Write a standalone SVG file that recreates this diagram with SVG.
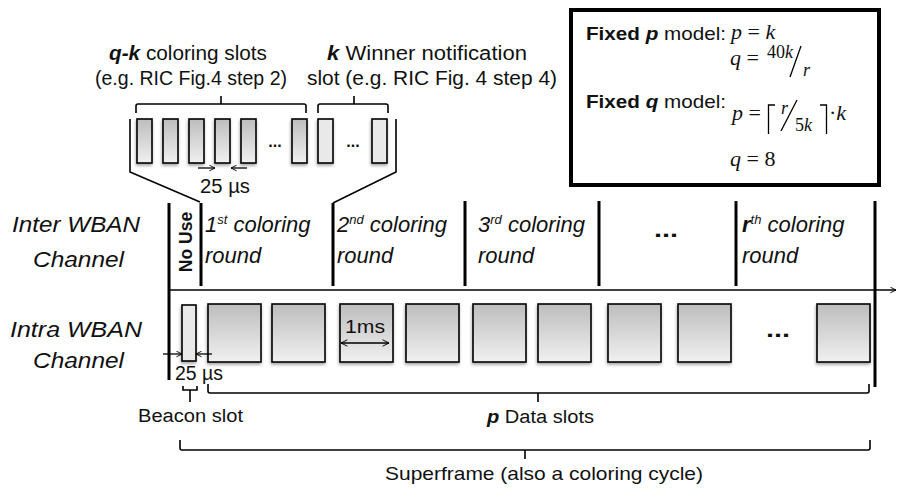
<svg xmlns="http://www.w3.org/2000/svg" width="897" height="488" viewBox="0 0 897 488">
<defs>
<linearGradient id="gSlot" x1="0" y1="0" x2="0" y2="1">
<stop offset="0" stop-color="#bdbdbd"/>
<stop offset="1" stop-color="#f0f0f0"/>
</linearGradient>
<filter id="sh" x="-30%" y="-30%" width="160%" height="160%">
<feDropShadow dx="-0.5" dy="2" stdDeviation="1.5" flood-color="#000" flood-opacity="0.35"/>
</filter>
<marker id="ah" viewBox="0 0 10 10" refX="9" refY="5" markerWidth="7" markerHeight="7" markerUnits="userSpaceOnUse" orient="auto">
<path d="M1,1 L9,5 L1,9" fill="none" stroke="#000" stroke-width="1.3"/>
</marker>
<marker id="ahs" viewBox="0 0 10 10" refX="9" refY="5" markerWidth="8" markerHeight="8" markerUnits="userSpaceOnUse" orient="auto-start-reverse">
<path d="M1,1 L9,5 L1,9" fill="none" stroke="#000" stroke-width="1.2"/>
</marker>
</defs>
<style>
text{font-family:"Liberation Sans",Arial,sans-serif;fill:#111}
.lbl{font-size:20px}
.it{font-style:italic;font-size:22px}
.bi{font-weight:bold;font-style:italic}
.b{font-weight:bold}
.ser{font-family:"Liberation Serif","Times New Roman",serif}
.v{font-style:italic}
.slot{fill:url(#gSlot);stroke:#000;stroke-width:1.6;filter:url(#sh)}
.lite{fill:#e9e9e9;stroke:#000;stroke-width:1.6;filter:url(#sh)}
.sep{stroke:#000;stroke-width:3;fill:none}
.ln{stroke:#000;stroke-width:1.6;fill:none}
.thin{stroke:#000;stroke-width:1.3;fill:none}
</style>

<g id="formula-box">
<rect x="571" y="10" width="308" height="175" fill="#fff" stroke="#000" stroke-width="4"/>
<text x="586" y="40" font-size="19" textLength="140" lengthAdjust="spacingAndGlyphs"><tspan class="b">Fixed </tspan><tspan class="bi">p</tspan> model:</text>
<text class="ser" x="731" y="39" font-size="22"><tspan class="v">p</tspan> = <tspan class="v">k</tspan></text>
<text class="ser" x="730" y="65" font-size="22"><tspan class="v">q</tspan> =</text>
<text class="ser" x="767" y="58" font-size="18">40<tspan class="v">k</tspan></text>
<line class="thin" x1="801" y1="46" x2="790" y2="77"/>
<text class="ser" x="803" y="76" font-size="18"><tspan class="v">r</tspan></text>
<text x="586" y="108" font-size="19" textLength="140" lengthAdjust="spacingAndGlyphs"><tspan class="b">Fixed </tspan><tspan class="bi">q</tspan> model:</text>
<text class="ser" x="732" y="120" font-size="22"><tspan class="v">p</tspan> =</text>
<path class="thin" d="M775,105 H768.5 V134"/>
<text class="ser" x="781" y="114" font-size="18"><tspan class="v">r</tspan></text>
<line class="thin" x1="797" y1="100" x2="781" y2="131"/>
<text class="ser" x="795" y="131" font-size="18">5<tspan class="v">k</tspan></text>
<path class="thin" d="M820,105 H826.5 V134"/>
<text class="ser" x="829" y="120" font-size="22">·<tspan class="v">k</tspan></text>
<text class="ser" x="730" y="166" font-size="22"><tspan class="v">q</tspan> = 8</text>
</g>

<g id="coloring-slots-label">
<text class="lbl" x="109" y="60" textLength="158" lengthAdjust="spacingAndGlyphs"><tspan class="bi">q-k</tspan> coloring slots</text>
<text class="lbl" x="95" y="85" textLength="192" lengthAdjust="spacingAndGlyphs">(e.g. RIC Fig.4 step 2)</text>
</g>
<g id="winner-label">
<text class="lbl" x="327" y="60" textLength="200" lengthAdjust="spacingAndGlyphs"><tspan class="bi">k</tspan> Winner notification</text>
<text class="lbl" x="307" y="85" textLength="250" lengthAdjust="spacingAndGlyphs">slot (e.g. RIC Fig. 4 step 4)</text>
</g>

<g id="coloring-round-detail">
<rect class="slot" x="137" y="119" width="15" height="44"/>
<rect class="slot" x="163" y="119" width="15" height="44"/>
<rect class="slot" x="189" y="119" width="15" height="44"/>
<rect class="slot" x="215" y="119" width="15" height="44"/>
<rect class="slot" x="241" y="119" width="15" height="44"/>
<text class="b" x="275" y="147" font-size="16" text-anchor="middle">...</text>
<rect class="slot" x="292" y="119" width="15" height="44"/>
<rect class="lite" x="318" y="119" width="15" height="44"/>
<text class="b" x="353" y="147" font-size="16" text-anchor="middle">...</text>
<rect class="lite" x="372" y="119" width="15" height="44"/>
<text class="lbl" x="200" y="193" textLength="50" lengthAdjust="spacingAndGlyphs">25 µs</text>
</g>

<g id="inter-wban">
<text class="it" x="12" y="232" textLength="128" lengthAdjust="spacingAndGlyphs">Inter WBAN</text>
<text class="it" x="33" y="267" textLength="91" lengthAdjust="spacingAndGlyphs">Channel</text>
<text class="b" font-size="17.5" transform="translate(192,242) rotate(-90)" text-anchor="middle">No Use</text>
<text class="it" x="205" y="232">1<tspan font-size="13" dy="-8">st</tspan><tspan dy="8"> coloring</tspan></text>
<text class="it" x="205" y="263">round</text>
<text class="it" x="337" y="232">2<tspan font-size="13" dy="-8">nd</tspan><tspan dy="8"> coloring</tspan></text>
<text class="it" x="337" y="263">round</text>
<text class="it" x="478" y="232">3<tspan font-size="13" dy="-8">rd</tspan><tspan dy="8"> coloring</tspan></text>
<text class="it" x="478" y="263">round</text>
<text class="b" x="666" y="237" font-size="22" text-anchor="middle" textLength="24" lengthAdjust="spacingAndGlyphs">...</text>
<text class="it" x="742" y="232"><tspan class="bi">r</tspan><tspan font-size="13" dy="-8">th</tspan><tspan dy="8"> coloring</tspan></text>
<text class="it" x="742" y="263">round</text>
</g>

<g id="intra-wban">
<text class="it" x="10" y="337" textLength="132" lengthAdjust="spacingAndGlyphs">Intra WBAN</text>
<text class="it" x="33" y="368" textLength="91" lengthAdjust="spacingAndGlyphs">Channel</text>
<rect class="lite" x="182" y="305" width="14" height="56"/>
<rect class="slot" x="208" y="304" width="53" height="58"/>
<rect class="slot" x="272" y="304" width="53" height="58"/>
<rect class="slot" x="340" y="304" width="53" height="58"/>
<rect class="slot" x="406" y="304" width="53" height="58"/>
<rect class="slot" x="473" y="304" width="53" height="58"/>
<rect class="slot" x="538" y="304" width="53" height="58"/>
<rect class="slot" x="608" y="304" width="53" height="58"/>
<rect class="slot" x="678" y="304" width="53" height="58"/>
<text class="b" x="778" y="337" font-size="22" text-anchor="middle" textLength="24" lengthAdjust="spacingAndGlyphs">...</text>
<rect class="slot" x="817" y="304" width="53" height="58"/>
<text x="345" y="333" font-size="18" textLength="40" lengthAdjust="spacingAndGlyphs">1ms</text>
<text class="lbl" x="175" y="380" textLength="48" lengthAdjust="spacingAndGlyphs">25 µs</text>
</g>

<g id="bottom-labels">
<text x="138" y="422" font-size="18" textLength="105" lengthAdjust="spacingAndGlyphs">Beacon slot</text>
<text x="487" y="423" font-size="18" textLength="107" lengthAdjust="spacingAndGlyphs"><tspan class="bi">p</tspan> Data slots</text>
<text x="385" y="480" font-size="19" textLength="318" lengthAdjust="spacingAndGlyphs">Superframe (also a coloring cycle)</text>
</g>

<g id="connectors">
<path class="ln" d="M136,113 V106 Q136,104 138,104 H304 Q306,104 306,106 V113 M221,104 V96"/>
<path class="ln" d="M318,113 V106 Q318,104 320,104 H386 Q388,104 388,106 V113 M354,104 V96"/>
<path class="ln" d="M130,119 V172 L200,202"/>
<path class="ln" d="M396,119 V172 L333,203"/>
<line class="thin" x1="198" y1="168" x2="215" y2="168" marker-end="url(#ah)"/>
<line class="thin" x1="247" y1="168" x2="231" y2="168" marker-end="url(#ah)"/>
<line class="ln" x1="169" y1="290" x2="896" y2="290" marker-end="url(#ah)"/>
<line class="sep" x1="169" y1="203" x2="169" y2="380"/>
<line class="sep" x1="201" y1="203" x2="201" y2="286"/>
<line class="sep" x1="333" y1="203" x2="333" y2="286"/>
<line class="sep" x1="465" y1="201" x2="465" y2="286"/>
<line class="sep" x1="599" y1="201" x2="599" y2="286"/>
<line class="sep" x1="736" y1="201" x2="736" y2="286"/>
<line class="sep" x1="875" y1="201" x2="875" y2="387"/>
<line class="thin" x1="341" y1="343" x2="389" y2="343" marker-start="url(#ahs)" marker-end="url(#ahs)"/>
<line class="thin" x1="163" y1="354" x2="182" y2="354" marker-end="url(#ah)"/>
<line class="thin" x1="212" y1="354" x2="196" y2="354" marker-end="url(#ah)"/>
<path class="ln" d="M183,386 V390 H197 V386 M190,390 V402"/>
<path class="ln" d="M208,384 V391 Q208,393 210,393 H867 Q869,393 869,391 V384 M538,393 V402"/>
<path class="ln" d="M180,440 V448 Q180,450 182,450 H868 Q870,450 870,448 V440 M525,450 V459"/>
</g>
</svg>
